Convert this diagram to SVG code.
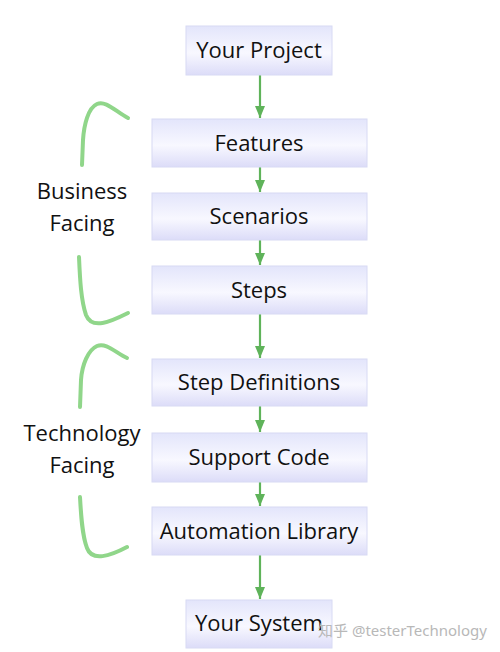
<svg xmlns="http://www.w3.org/2000/svg" width="500" height="652" viewBox="0 0 500 652">
<defs>
<linearGradient id="g" x1="0" y1="0" x2="0" y2="1">
<stop offset="0" stop-color="#e3e5fb"/>
<stop offset="0.55" stop-color="#f8f8ff"/>
<stop offset="1" stop-color="#dcdcf8"/>
</linearGradient>
<marker id="ah" viewBox="0 0 12 10" refX="12" refY="5" markerWidth="12" markerHeight="10" markerUnits="userSpaceOnUse" orient="auto">
<path d="M0,0 L12,5 L0,10 Z" fill="#5fb35a"/>
</marker>
</defs>
<style>
.box{fill:url(#g);stroke:#d8daf4;stroke-width:1}
.t{font-family:"Open Sans","Noto Sans",sans-serif;font-size:22px;fill:#111;text-anchor:middle}
.c{stroke:#5fb35a;stroke-width:2.2;fill:none}
.br{stroke:#90d68a;stroke-width:4;fill:none;stroke-linecap:round}
.wm{font-family:"Noto Sans","Noto Sans CJK SC",sans-serif;font-size:15px;fill:#b8b8b8}
</style>
<rect width="500" height="652" fill="#fff"/>
<g id="connectors">
<path class="c" d="M260,75 V118" marker-end="url(#ah)"/>
<path class="c" d="M260,167 V192" marker-end="url(#ah)"/>
<path class="c" d="M260,240 V265" marker-end="url(#ah)"/>
<path class="c" d="M260,314 V358" marker-end="url(#ah)"/>
<path class="c" d="M260,406 V432" marker-end="url(#ah)"/>
<path class="c" d="M260,482 V506" marker-end="url(#ah)"/>
<path class="c" d="M260,555 V599" marker-end="url(#ah)"/>
</g>
<g id="your-project"><rect class="box" x="186" y="26" width="146" height="49"/><text class="t" x="259" y="58">Your Project</text></g>
<g id="features"><rect class="box" x="152" y="119" width="215" height="48"/><text class="t" x="259" y="151">Features</text></g>
<g id="scenarios"><rect class="box" x="152" y="193" width="215" height="47"/><text class="t" x="259" y="224">Scenarios</text></g>
<g id="steps"><rect class="box" x="152" y="266" width="215" height="48"/><text class="t" x="259" y="298">Steps</text></g>
<g id="step-definitions"><rect class="box" x="152" y="359" width="215" height="47"/><text class="t" x="259" y="390">Step Definitions</text></g>
<g id="support-code"><rect class="box" x="152" y="433" width="215" height="49"/><text class="t" x="259" y="465">Support Code</text></g>
<g id="automation-library"><rect class="box" x="152" y="507" width="215" height="48"/><text class="t" x="259" y="539">Automation Library</text></g>
<g id="your-system"><rect class="box" x="186" y="600" width="146" height="48"/><text class="t" x="259" y="631">Your System</text></g>
<g id="business-facing">
<path class="br" d="M128,118 C116,112 106,100 97,104 C88,108 84,125 83,140 L82,165"/>
<path class="br" d="M79,257 C80,280 81,300 86,315 C92,330 110,322 128,313"/>
<text class="t" x="82" y="199">Business</text>
<text class="t" x="82" y="231">Facing</text>
</g>
<g id="technology-facing">
<path class="br" d="M127,358 C116,353 106,342 97,346 C88,350 82,365 81,380 L80,407"/>
<path class="br" d="M80,497 C81,515 82,535 87,548 C92,562 110,556 127,547"/>
<text class="t" x="82" y="441">Technology</text>
<text class="t" x="82" y="473">Facing</text>
</g>
<text class="wm" x="318" y="636">知乎 @testerTechnology</text>
</svg>
